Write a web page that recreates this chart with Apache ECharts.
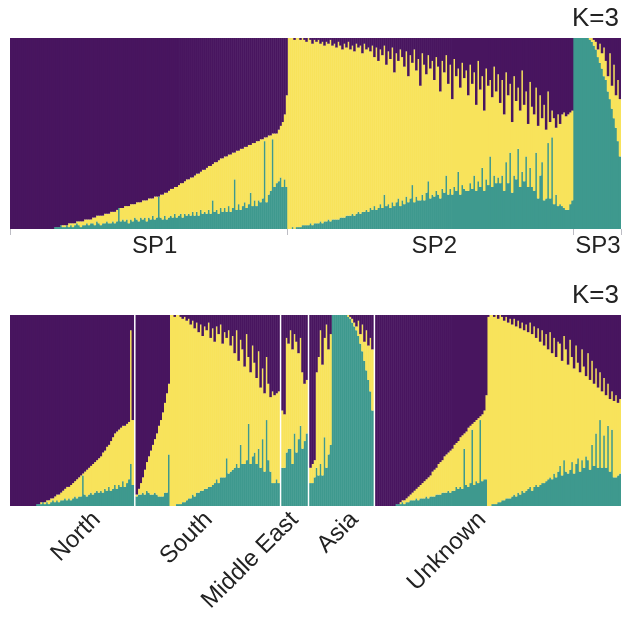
<!DOCTYPE html>
<html>
<head>
<meta charset="utf-8">
<script src="https://cdn.jsdelivr.net/npm/echarts@6/dist/echarts.min.js"></script>
<style>
  html, body { margin: 0; padding: 0; background: #ffffff; }
  #chart { width: 629px; height: 620px; }
</style>
</head>
<body>
<div id="chart"></div>
<script>
// Ancestry proportions (%) for each individual, K = 3 clusters.
// Every row is [purple, yellow, teal].
const clusterLabel = 'K=3';
const speciesNames = ['SP1', 'SP2', 'SP3'];
const regionNames = ['North', 'South', 'Middle East', 'Asia', 'Unknown'];

const sp1 = [
  [100,0,0],[100,0,0],[100,0,0],[100,0,0],[100,0,0],[100,0,0],[100,0,0],[100,0,0],[100,0,0],[100,0,0],
  [100,0,0],[100,0,0],[100,0,0],[100,0,0],[100,0,0],[100,0,0],[100,0,0],[100,0,0],[100,0,0],[100,0,0],
  [100,0,0],[100,0,0],[99,0,1],[99,0,1],[99,0,1],[98,0,2],[98,1,1],[98,1,1],[98,0,2],[97,2,1],
  [97,1,2],[97,2,1],[97,1,2],[96,1,3],[96,2,2],[96,3,1],[96,2,2],[95,3,2],[95,2,3],[95,3,2],
  [95,2,3],[94,3,3],[94,4,2],[93,3,4],[93,4,3],[93,5,2],[93,4,3],[92,5,3],[92,4,4],[92,5,3],
  [91,6,3],[91,5,4],[91,6,3],[90,6,4],[89,0,11],[89,7,4],[89,6,5],[88,8,4],[88,7,5],[88,9,3],
  [87,8,5],[87,9,4],[87,7,6],[86,9,5],[86,10,4],[86,8,6],[85,10,5],[85,9,6],[85,11,4],[84,10,6],
  [84,11,5],[84,9,7],[83,12,5],[83,11,6],[83,0,17],[82,12,6],[82,13,5],[81,12,7],[81,14,5],[80,14,6],
  [79,14,7],[79,15,6],[78,14,8],[78,16,6],[77,16,7],[76,16,8],[76,18,6],[75,17,8],[74,19,7],[74,18,8],
  [73,20,7],[73,18,9],[72,21,7],[71,20,9],[71,22,7],[70,20,10],[69,23,8],[69,22,9],[68,24,8],[67,23,10],
  [67,25,8],[66,19,15],[65,26,9],[65,25,10],[64,28,8],[63,26,11],[63,28,9],[62,27,11],[62,29,9],[61,27,12],
  [61,30,9],[60,29,11],[60,14,26],[59,31,10],[59,28,13],[58,32,10],[58,30,12],[57,29,14],[57,32,11],[56,31,13],
  [56,25,19],[55,33,12],[55,30,15],[54,34,12],[54,31,15],[53,33,14],[53,31,16],[52,2,46],[52,34,14],[51,31,18],
  [51,29,20],[50,3,47],[50,28,22],[50,26,24],[48,27,25],[46,27,27],[44,34,22],[40,34,26],[30,48,22]
];

const sp2 = [
  [0,100,0],[0,100,0],[0,99,1],[1,99,0],[0,99,1],[0,99,1],[1,98,1],[0,98,2],[1,97,2],[2,96,2],
  [0,98,2],[1,96,3],[3,95,2],[1,96,3],[2,95,3],[1,96,3],[3,93,4],[2,95,3],[4,92,4],[2,94,4],
  [3,92,5],[1,95,4],[4,91,5],[3,92,5],[5,90,5],[2,93,5],[4,90,6],[6,88,6],[3,91,6],[5,88,7],
  [2,91,7],[6,87,7],[4,88,8],[7,86,7],[3,89,8],[5,86,9],[4,88,8],[8,83,9],[3,88,9],[6,84,10],
  [5,86,9],[7,82,11],[4,86,10],[10,78,12],[5,85,10],[12,77,11],[6,81,13],[9,80,11],[4,78,18],[14,74,12],
  [7,80,13],[11,78,11],[5,81,14],[18,70,12],[8,78,14],[12,72,16],[6,82,12],[10,75,15],[15,72,13],[7,76,17],
  [20,66,14],[9,75,16],[13,64,23],[6,80,14],[17,66,17],[11,74,15],[25,60,15],[8,74,18],[14,71,15],[19,62,19],
  [9,66,25],[16,68,16],[12,70,18],[22,61,17],[10,70,20],[15,67,18],[28,56,16],[12,67,21],[18,63,19],[9,63,28],
  [24,58,18],[14,65,21],[32,50,18],[11,67,22],[20,60,20],[16,54,30],[26,56,18],[13,64,23],[21,58,21],[17,63,20],
  [30,50,20],[14,62,24],[24,55,21],[18,54,28],[35,45,20],[12,63,25],[27,51,22],[20,48,32],[38,42,20],[16,58,26],
  [25,52,23],[22,40,38],[31,47,22],[15,57,28],[28,48,24],[19,54,27],[34,42,24],[22,50,28],[40,40,20],[18,47,35],
  [30,46,24],[24,36,40],[44,37,19],[20,52,28],[33,41,26],[26,32,42],[38,40,22],[17,53,30],[35,40,25],[28,34,38],
  [45,33,22],[23,45,32],[36,42,22],[40,40,20],[26,34,40],[46,38,16],[30,42,28],[42,23,35],[35,50,15],[48,36,16],
  [28,27,45],[44,40,16],[38,14,48],[42,45,13],[47,35,18],[40,48,12],[45,42,13],[40,48,12],[39,50,11],[41,49,10],
  [40,50,10],[39,48,13],[38,47,15]
];

const sp3 = [
  [0,0,100],[0,0,100],[0,0,100],[0,0,100],[0,0,100],[0,0,100],[0,0,100],[0,0,100],[0,1,99],[0,2,98],
  [1,3,96],[2,4,94],[6,4,90],[3,10,87],[8,8,84],[5,15,80],[12,10,78],[20,8,72],[8,24,68],[25,12,63],
  [14,28,58],[30,17,53],[22,32,46],[32,30,38]
];

const north = [
  [100,0,0],[100,0,0],[100,0,0],[100,0,0],[100,0,0],[100,0,0],[100,0,0],[100,0,0],[100,0,0],[100,0,0],
  [100,0,0],[100,0,0],[100,0,0],[99,0,1],[99,0,1],[98,1,1],[98,0,2],[98,1,1],[97,1,2],[97,2,1],
  [96,2,2],[96,1,3],[95,3,2],[94,3,3],[94,4,2],[93,4,3],[92,5,3],[91,5,4],[90,7,3],[90,6,4],
  [89,8,3],[88,8,4],[87,8,5],[86,10,4],[85,10,5],[84,11,5],[83,1,16],[82,12,6],[81,14,5],[80,14,6],
  [79,14,7],[78,16,6],[77,16,7],[76,16,8],[75,18,7],[74,18,8],[72,21,7],[71,20,9],[69,23,8],[68,22,10],
  [66,26,8],[64,27,9],[62,27,11],[61,30,9],[60,29,11],[59,31,10],[58,29,13],[58,32,10],[57,31,12],[56,30,14],
  [8,70,22],[55,34,11]
];

const south = [
  [94,1,5],[91,3,6],[88,6,6],[85,8,7],[81,13,6],[77,15,8],[74,19,7],[71,23,6],[68,26,6],[65,28,7],
  [62,32,6],[58,37,5],[55,40,5],[51,44,5],[46,47,7],[41,52,7],[36,37,27],[0,100,0],[0,100,0],[1,99,0],
  [0,99,1],[0,99,1],[1,98,1],[2,96,2],[1,97,2],[3,94,3],[2,94,4],[5,91,4],[3,91,6],[7,88,5],
  [4,89,7],[9,84,7],[5,87,8],[11,81,8],[6,85,9],[8,83,9],[4,86,10],[12,78,10],[7,82,11],[14,74,12],
  [6,80,14],[10,78,12],[5,80,15],[15,70,15],[9,76,15],[12,63,25],[8,75,17],[16,66,18],[11,70,19],[20,60,20],
  [8,70,22],[24,56,20],[13,55,32],[18,60,22],[27,51,22],[10,66,24],[22,35,43],[30,48,22],[16,58,26],[25,47,28],
  [33,45,22],[19,51,30],[38,42,20],[28,37,35],[41,41,18],[22,33,45],[36,40,24],[43,39,18],[40,48,12],[42,46,12],
  [41,45,14],[40,48,12]
];

const middleEast = [
  [50,30,20],[52,28,20],[12,60,28],[15,55,30],[8,62,30],[18,60,22],[10,52,38],[14,58,28],[20,45,35],[12,46,42],
  [30,40,30],[36,30,34],[34,28,38]
];

const asia = [
  [80,8,12],[78,10,12],[76,9,15],[30,50,20],[22,62,16],[8,70,22],[26,58,16],[12,52,36],[5,75,20],[18,55,27],
  [10,58,32],[0,0,100],[0,0,100],[0,0,100],[0,0,100],[0,0,100],[0,0,100],[0,0,100],[0,0,100],[0,1,99],
  [1,1,98],[2,2,96],[4,2,94],[6,2,92],[3,8,89],[10,5,85],[5,14,81],[14,10,76],[8,21,71],[16,18,66],
  [12,28,60],[18,32,50]
];

const unknown = [
  [100,0,0],[100,0,0],[100,0,0],[100,0,0],[100,0,0],[100,0,0],[100,0,0],[100,0,0],[100,0,0],[100,0,0],
  [99,0,1],[99,0,1],[98,1,1],[97,1,2],[97,2,1],[96,2,2],[95,3,2],[94,3,3],[93,4,3],[92,5,3],
  [91,5,4],[90,7,3],[89,7,4],[88,8,4],[87,9,4],[86,9,5],[85,11,4],[84,11,5],[82,13,5],[81,14,5],
  [80,14,6],[78,16,6],[77,17,6],[76,17,7],[74,19,7],[73,20,7],[72,20,8],[71,22,7],[70,22,8],[68,24,8],
  [67,23,10],[66,25,9],[64,26,10],[63,28,9],[62,8,30],[61,28,11],[59,31,10],[58,30,12],[57,3,40],[56,33,11],
  [55,32,13],[54,34,12],[53,2,45],[52,35,13],[50,36,14],[42,44,14],[1,99,0],[0,100,0],[0,99,1],[1,98,1],
  [0,99,1],[2,96,2],[0,98,2],[1,96,3],[3,94,3],[1,95,4],[4,92,4],[2,94,4],[5,90,5],[2,92,6],
  [6,89,5],[3,90,7],[7,87,6],[4,88,8],[8,85,7],[5,87,8],[9,82,9],[4,86,10],[10,82,8],[6,84,10],
  [12,77,11],[7,83,10],[14,75,11],[8,80,12],[16,72,12],[10,77,13],[18,68,14],[9,76,15],[20,66,14],[12,71,17],
  [22,63,15],[14,68,18],[15,64,21],[24,60,16],[11,65,24],[18,64,18],[26,57,17],[13,68,19],[22,55,23],[28,55,17],
  [16,62,22],[25,50,25],[30,52,18],[18,58,24],[27,53,20],[32,42,26],[20,56,24],[34,47,19],[24,44,32],[36,43,21],
  [28,34,38],[38,42,20],[30,25,45],[40,40,20],[33,30,37],[42,38,20],[36,22,42],[44,38,18],[40,20,40],[45,40,15],
  [42,43,15],[46,38,16],[44,39,17]
];

const speciesGroups = [sp1, sp2, sp3];
const regionGroups = [north, south, middleEast, asia, unknown];

// ---- layout and styling ----
const COLORS = { purple: '#48155f', yellow: '#f8e35b', teal: '#3e998e' };
const FONT = '"Liberation Sans", Arial, Helvetica, sans-serif';
const TEXT = '#222222';
// small nudges (in individuals) for the group captions
const speciesLabelShift = [3, 2, 0];
const regionLabelShift = [12, 0, 0, 6, -8];

// Lay the groups out one after another; an empty slot separates regions.
function layoutGroups(groups, names, shifts, separated) {
  const rows = [];
  const starts = [];
  const labelAt = {};
  groups.forEach((g, gi) => {
    if (separated && gi > 0) rows.push(null);
    starts.push(rows.length);
    labelAt[Math.round(rows.length + (g.length - 1) / 2 + shifts[gi])] = names[gi];
    g.forEach(r => rows.push(r));
  });
  return { rows, starts, labelAt };
}

const topPanel = layoutGroups(speciesGroups, speciesNames, speciesLabelShift, false);
const bottomPanel = layoutGroups(regionGroups, regionNames, regionLabelShift, true);

// Share of one cluster, normalised so every individual fills the column.
function share(rows, k) {
  return rows.map(r => r ? (r[k] / (r[0] + r[1] + r[2])) * 100 : 0);
}

function panelSeries(panel, gi) {
  const order = [[2, COLORS.teal], [1, COLORS.yellow], [0, COLORS.purple]];
  return order.map(([k, color]) => ({
    type: 'bar',
    xAxisIndex: gi,
    yAxisIndex: gi,
    stack: 'q' + gi,
    data: share(panel.rows, k),
    // slightly wider than the band so neighbouring columns close up
    barWidth: '125%',
    barGap: '-100%',
    itemStyle: { color: color, borderWidth: 0 },
    silent: true,
    emphasis: { disabled: true }
  }));
}

const tickStarts = new Set(topPanel.starts);

const chart = echarts.init(document.getElementById('chart'), null, { renderer: 'canvas' });
chart.setOption({
  animation: false,
  backgroundColor: '#ffffff',
  title: [
    { text: clusterLabel, right: 5, top: 1, textStyle: { fontFamily: FONT, fontSize: 26, fontWeight: 'normal', color: TEXT } },
    { text: clusterLabel, right: 5, top: 278, textStyle: { fontFamily: FONT, fontSize: 26, fontWeight: 'normal', color: TEXT } }
  ],
  grid: [
    { left: 10, right: 8, top: 38, height: 191, containLabel: false, outerBoundsMode: 'none' },
    { left: 10, right: 8, top: 315, height: 191, containLabel: false, outerBoundsMode: 'none' }
  ],
  xAxis: [
    {
      type: 'category', gridIndex: 0, boundaryGap: true,
      data: topPanel.rows.map((_, i) => i),
      axisLine: { show: false },
      axisTick: {
        show: true, length: 6,
        interval: (idx) => tickStarts.has(idx),
        lineStyle: { color: '#bdbdc4', width: 1 }
      },
      axisLabel: {
        interval: 0, margin: 5,
        fontFamily: FONT, fontSize: 24, color: TEXT,
        formatter: (v, idx) => topPanel.labelAt[idx] || ''
      },
      splitLine: { show: false }
    },
    {
      type: 'category', gridIndex: 1, boundaryGap: true,
      data: bottomPanel.rows.map((_, i) => i),
      axisLine: { show: false },
      axisTick: { show: false },
      axisLabel: {
        interval: 0, margin: 10, rotate: 45,
        fontFamily: FONT, fontSize: 24, color: TEXT,
        formatter: (v, idx) => bottomPanel.labelAt[idx] || ''
      },
      splitLine: { show: false }
    }
  ],
  yAxis: [
    { type: 'value', gridIndex: 0, min: 0, max: 100, show: false },
    { type: 'value', gridIndex: 1, min: 0, max: 100, show: false }
  ],
  series: [...panelSeries(topPanel, 0), ...panelSeries(bottomPanel, 1)]
});
</script>
</body>
</html>
